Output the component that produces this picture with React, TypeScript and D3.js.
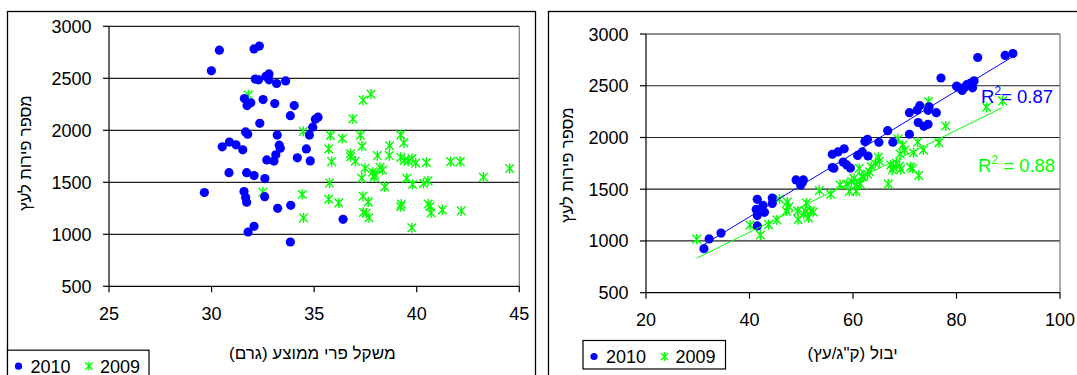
import React from "react";
import * as d3 from "d3";

// ---------- DATA ----------
const seriesNames = ["2010", "2009"];
const r2Labels = ["0.87", "0.88"];

// Left panel: average fruit weight (g) vs fruits per tree
const weight2010 = [30.38, 29.99, 32.07, 32.33, 32.13, 32.29, 32.65, 32.8, 32.8, 33.17, 33.61, 31.6, 31.73, 31.91, 32.51, 33.08, 34.03, 33.84, 32.35, 35.06, 35.19, 34.93, 34.77, 31.66, 31.76, 33.2, 33.3, 33.35, 30.87, 31.19, 31.52, 30.52, 34.62, 34.18, 33.13, 32.69, 33.04, 34.81, 30.85, 31.71, 32.07, 32.6, 29.65, 31.58, 31.66, 31.71, 32.59, 33.86, 33.22, 36.41, 32.07, 31.78, 33.84];
const fruitsW2010 = [2770, 2572, 2782, 2810, 2493, 2485, 2519, 2542, 2485, 2450, 2475, 2305, 2238, 2264, 2295, 2257, 2238, 2141, 2067, 2107, 2126, 2030, 1954, 1984, 1962, 1954, 1857, 1828, 1887, 1860, 1812, 1841, 1821, 1735, 1765, 1715, 1704, 1706, 1593, 1593, 1565, 1536, 1401, 1411, 1353, 1308, 1362, 1279, 1250, 1144, 1077, 1022, 926];

const weight2009 = [31.79, 37.38, 37.77, 36.89, 34.47, 35.79, 36.37, 37.25, 39.22, 39.37, 35.71, 37.33, 38.68, 36.78, 36.78, 37.01, 35.85, 38.08, 38.66, 39.22, 39.4, 39.77, 39.58, 39.95, 40.47, 41.65, 42.12, 44.53, 37.48, 37.85, 37.95, 38.21, 38.33, 37.32, 35.75, 39.51, 38.44, 39.8, 40.33, 40.55, 43.25, 37.38, 37.64, 34.42, 32.5, 35.71, 36.2, 39.25, 39.22, 40.56, 40.65, 40.7, 41.25, 42.17, 34.48, 37.4, 37.53, 37.67, 39.76, 37.93];
const fruitsW2009 = [2339, 2290, 2347, 2110, 1990, 1950, 1921, 1952, 1956, 1879, 1821, 1847, 1852, 1775, 1747, 1703, 1699, 1757, 1757, 1740, 1711, 1728, 1703, 1684, 1691, 1699, 1699, 1633, 1635, 1598, 1572, 1644, 1618, 1540, 1494, 1539, 1456, 1480, 1490, 1514, 1549, 1366, 1312, 1383, 1406, 1337, 1302, 1290, 1266, 1292, 1268, 1205, 1234, 1225, 1158, 1210, 1203, 1160, 1063, 1552];

// Right panel: yield (kg/tree) vs fruits per tree
const yield2010 = [31.2, 32.2, 34.5, 41.5, 41.3, 42.6, 41.5, 42.9, 41.5, 44.4, 44.4, 49.0, 50.4, 49.9, 50.2, 56.0, 57.1, 58.3, 56.0, 56.3, 58.1, 58.8, 59.5, 60.9, 61.8, 62.9, 62.3, 62.8, 65.0, 66.7, 67.7, 70.9, 70.9, 72.4, 72.9, 72.6, 73.7, 74.5, 74.5, 74.7, 76.1, 77.0, 80.0, 80.3, 81.1, 81.6, 82.0, 82.6, 83.1, 83.4, 84.1, 89.4, 90.9];
const fruitsY2010 = [925, 1020, 1076, 1402, 1305, 1345, 1245, 1277, 1145, 1414, 1362, 1590, 1590, 1540, 1565, 1838, 1860, 1890, 1710, 1703, 1762, 1735, 1704, 1827, 1860, 1821, 1962, 1982, 1953, 2066, 1955, 2031, 2240, 2265, 2307, 2145, 2108, 2127, 2262, 2296, 2240, 2575, 2496, 2486, 2455, 2486, 2510, 2522, 2480, 2547, 2773, 2793, 2811];

const yield2009 = [29.8, 40.1, 42.1, 43.7, 45.3, 45.8, 47.3, 47.6, 47.1, 49.3, 49.4, 50.5, 51.0, 51.8, 51.4, 52.3, 50.8, 53.5, 55.7, 57.5, 58.8, 59.3, 60.7, 60.6, 61.4, 61.2, 61.7, 60.2, 63.2, 63.5, 64.9, 65.1, 66.8, 67.3, 67.8, 68.4, 67.6, 69.0, 69.2, 68.7, 69.6, 70.0, 69.1, 71.1, 71.5, 71.7, 72.5, 72.7, 73.6, 74.6, 76.6, 77.9, 85.8, 88.9, 59.7, 62.8, 62.0, 64.3];
const fruitsY2009 = [1018, 1153, 1057, 1158, 1204, 1404, 1375, 1331, 1288, 1288, 1207, 1255, 1367, 1290, 1225, 1280, 1290, 1488, 1452, 1543, 1550, 1478, 1541, 1478, 1550, 1702, 1621, 1605, 1669, 1718, 1808, 1770, 1552, 1734, 1712, 1750, 1685, 1724, 1692, 1986, 1925, 1879, 1840, 1715, 1700, 1853, 1955, 1632, 1879, 2348, 1950, 2111, 2292, 2354, 1572, 1644, 1618, 1747];

const yTicks = [500, 1000, 1500, 2000, 2500, 3000];
const xTicksLeft = [25, 30, 35, 40, 45];
const xTicksRight = [20, 40, 60, 80, 100];

const yTitle = "מספר פירות לעץ";
const xTitleLeft = "משקל פרי ממוצע (גרם)";
const xTitleRight = 'יבול (ק"ג/עץ)';

// ---------- STYLE ----------
const BLUE = "#0000ff";
const GREEN = "#00ff00";
const FONT = "'Liberation Sans', Arial, Helvetica, sans-serif";

const zip = (xs: number[], ys: number[]) => xs.map((x, i) => ({ x, y: ys[i] }));

function regression(pts: { x: number; y: number }[]) {
  const mx = d3.mean(pts, (p) => p.x) as number;
  const my = d3.mean(pts, (p) => p.y) as number;
  let sxy = 0, sxx = 0;
  pts.forEach((p) => { sxy += (p.x - mx) * (p.y - my); sxx += (p.x - mx) ** 2; });
  const b = sxy / sxx;
  const a = my - b * mx;
  const [lo, hi] = d3.extent(pts, (p) => p.x) as [number, number];
  return [{ x: lo, y: a + b * lo }, { x: hi, y: a + b * hi }];
}

const Star = ({ cx, cy, s = 4.3 }: { cx: number; cy: number; s?: number }) => (
  <path
    d={`M${cx - s},${cy - s}L${cx + s},${cy + s}M${cx - s},${cy + s}L${cx + s},${cy - s}M${cx},${cy - s - 0.8}L${cx},${cy + s + 0.8}`}
    stroke={GREEN}
    strokeWidth={1.4}
    fill="none"
  />
);

type PanelProps = {
  frame: [number, number];
  px: [number, number];
  py: [number, number];
  xDomain: [number, number];
  xTicks: number[];
  s2010: { x: number; y: number }[];
  s2009: { x: number; y: number }[];
  xTitle: string;
  xTitlePos: [number, number];
  yTitlePos: [number, number];
  legend: { x: number; y: number; w: number; h: number };
  trend?: boolean;
};

function Panel(p: PanelProps) {
  const x = d3.scaleLinear().domain(p.xDomain).range(p.px);
  const y = d3.scaleLinear().domain([500, 3000]).range([p.py[1], p.py[0]]);
  const line = d3.line<{ x: number; y: number }>().x((d) => x(d.x)).y((d) => y(d.y));
  const lg = p.legend;
  const lcy = lg.y + 16;
  return (
    <g>
      <rect x={p.frame[0]} y={11.5} width={p.frame[1] - p.frame[0]} height={420} fill="#fff" stroke="#000" strokeWidth={1.3} />
      {/* grid */}
      {yTicks.filter((t) => t > 500).map((t) => (
        <line key={t} x1={p.px[0]} x2={p.px[1]} y1={y(t)} y2={y(t)} stroke="#222" strokeWidth={1.2} />
      ))}
      <line x1={p.px[1]} x2={p.px[1]} y1={y(3000)} y2={y(500)} stroke="#777" strokeWidth={1.2} />
      {/* axes */}
      <line x1={p.px[0]} x2={p.px[0]} y1={y(3000)} y2={y(500)} stroke="#000" strokeWidth={1.2} />
      <line x1={p.px[0]} x2={p.px[1]} y1={y(500)} y2={y(500)} stroke="#000" strokeWidth={1.2} />
      {yTicks.map((t) => (
        <g key={t}>
          <line x1={p.px[0] - 6} x2={p.px[0]} y1={y(t)} y2={y(t)} stroke="#000" strokeWidth={1.2} />
          <text x={p.px[0] - 17.5} y={y(t) + 6.5} textAnchor="end" fontSize={18} fontFamily={FONT} fill="#000">{t}</text>
        </g>
      ))}
      {p.xTicks.map((t) => (
        <g key={t}>
          <line x1={x(t)} x2={x(t)} y1={y(500)} y2={y(500) + 6} stroke="#000" strokeWidth={1.2} />
          <text x={x(t)} y={y(500) + 33.5} textAnchor="middle" fontSize={18} fontFamily={FONT} fill="#000">{t}</text>
        </g>
      ))}
      {/* titles */}
      <text
        transform={`translate(${p.yTitlePos[0]},${p.yTitlePos[1]}) rotate(-90)`}
        textAnchor="middle" direction="rtl" dominantBaseline="central"
        fontSize={16.5} fontFamily={FONT} fill="#000"
      >{yTitle}</text>
      <text x={p.xTitlePos[0]} y={p.xTitlePos[1]} textAnchor="middle" direction="rtl" fontSize={17} fontFamily={FONT} fill="#000">{p.xTitle}</text>
      {/* points */}
      {p.s2009.map((d, i) => <Star key={"g" + i} cx={x(d.x)} cy={y(d.y)} />)}
      {p.s2010.map((d, i) => <circle key={"b" + i} cx={x(d.x)} cy={y(d.y)} r={4.6} fill={BLUE} />)}
      {p.trend && (
        <g>
          <path d={line(regression(p.s2010)) as string} stroke={BLUE} strokeWidth={1} fill="none" />
          <path d={line(regression(p.s2009)) as string} stroke={GREEN} strokeWidth={1} fill="none" />
          <text x={981} y={103.3} fontSize={18.5} fontFamily={FONT} fill={BLUE}>
            R<tspan dy={-8} fontSize={12}>2</tspan><tspan dy={8}>= {r2Labels[0]}</tspan>
          </text>
          <text x={978} y={171.7} fontSize={18.5} fontFamily={FONT} fill={GREEN}>
            R<tspan dy={-8} fontSize={12}>2</tspan><tspan dy={8}> = {r2Labels[1]}</tspan>
          </text>
        </g>
      )}
      {/* legend */}
      <rect x={lg.x} y={lg.y} width={lg.w} height={lg.h} fill="#fff" stroke="#000" strokeWidth={1.2} />
      <circle cx={lg.x + 11} cy={lcy} r={3.6} fill={BLUE} />
      <text x={lg.x + 23} y={lcy + 6.3} fontSize={18} fontFamily={FONT} fill="#000">{seriesNames[0]}</text>
      <Star cx={lg.x + 81.5} cy={lcy} s={3.6} />
      <text x={lg.x + 92.5} y={lcy + 6.3} fontSize={18} fontFamily={FONT} fill="#000">{seriesNames[1]}</text>
    </g>
  );
}

export default function App() {
  return (
    <svg
      width={1077}
      height={375}
      style={{ position: "fixed", left: 0, top: 0, background: "#fff" }}
    >
      <rect x={0} y={0} width={1077} height={375} fill="#fff" />
      <Panel
        frame={[7.5, 535.5]}
        px={[109, 519.3]}
        py={[26.3, 286.3]}
        xDomain={[25, 45]}
        xTicks={xTicksLeft}
        s2010={zip(weight2010, fruitsW2010)}
        s2009={zip(weight2009, fruitsW2009)}
        xTitle={xTitleLeft}
        xTitlePos={[312.3, 358.5]}
        yTitlePos={[25, 153]}
        legend={{ x: 7.5, y: 350.2, w: 141.5, h: 40 }}
      />
      <Panel
        frame={[548.5, 1085]}
        px={[646, 1060]}
        py={[34, 292.7]}
        xDomain={[20, 100]}
        xTicks={xTicksRight}
        s2010={zip(yield2010, fruitsY2010)}
        s2009={zip(yield2009, fruitsY2009)}
        xTitle={xTitleRight}
        xTitlePos={[852.6, 358.5]}
        yTitlePos={[566.7, 165]}
        legend={{ x: 583, y: 340.5, w: 142.5, h: 28.5 }}
        trend
      />
    </svg>
  );
}
